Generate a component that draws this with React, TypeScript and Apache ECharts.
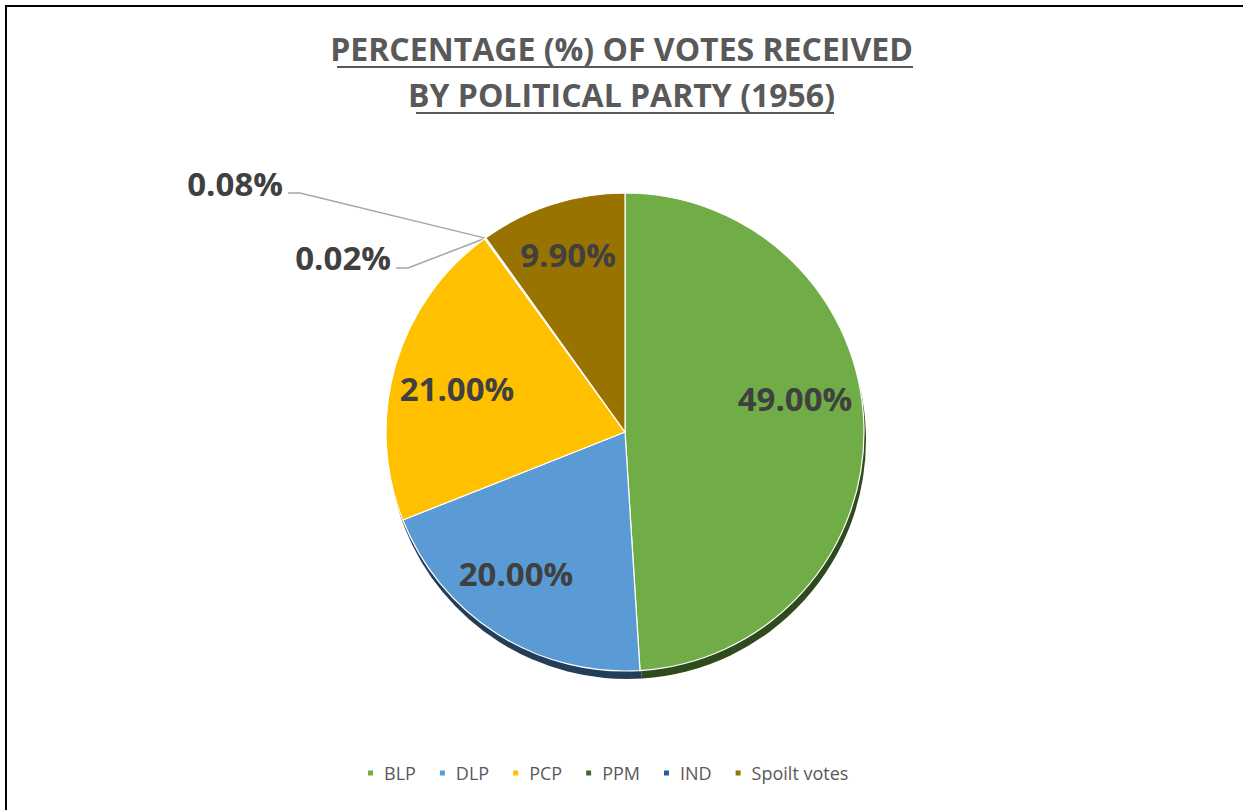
import React, { useEffect, useRef } from "react";
import * as echarts from "echarts";

const categories = ["BLP", "DLP", "PCP", "PPM", "IND", "Spoilt votes"];
const values = [49.0, 20.0, 21.0, 0.02, 0.08, 9.9];
const colors = ["#70AD47", "#5B9BD5", "#FFC000", "#43682B", "#255E91", "#997300"];
const shadowColors = ["#2F4A1D", "#223E58", "#6B5300", "#26391A", "#16385A", "#5A4400"];
const titleLines = ["PERCENTAGE (%) OF VOTES RECEIVED", "BY POLITICAL PARTY (1956)"];

// label anchor positions (page pixels)
const labelPos: Record<number, { x: number; y: number; align: string; elbow?: number[]; end?: number[] }> = {
  0: { x: 795, y: 398, align: "center" },
  1: { x: 516, y: 573, align: "center" },
  2: { x: 457, y: 388, align: "center" },
  3: { x: 391, y: 257, align: "right", elbow: [408, 268], end: [396, 268] },
  4: { x: 283, y: 183, align: "right", elbow: [300, 193], end: [288, 193] },
  5: { x: 568, y: 254, align: "center" },
};

const FONT = "'Open Sans', Lato, sans-serif";

export default function App() {
  const ref = useRef<HTMLDivElement>(null);
  useEffect(() => {
    document.body.style.margin = "0";
    if (!ref.current) return;
    const chart = echarts.init(ref.current, undefined, { renderer: "svg" });
    const center = [625, 432];
    const radius = 239;
    chart.setOption({
      animation: false,
      backgroundColor: "#ffffff",
      title: {
        text: titleLines.join("\n"),
        left: "center",
        top: 20,
        textStyle: {
          fontFamily: FONT,
          fontWeight: "bold",
          fontSize: 32,
          lineHeight: 46,
          color: "#595959",
        },
      },
      legend: {
        bottom: 23,
        left: 361,
        icon: "rect",
        itemWidth: 7,
        itemHeight: 7,
        itemGap: 22,
        data: categories,
        textStyle: { fontFamily: FONT, fontSize: 18, color: "#595959", padding: [0, 0, 0, 5] },
      },
      graphic: [
        {
          type: "rect",
          shape: { x: 6, y: 6, width: 1300, height: 900 },
          style: { fill: "none", stroke: "#000", lineWidth: 2 },
          silent: true,
          z: 100,
        },
        {
          type: "line",
          shape: { x1: 337, y1: 67, x2: 913, y2: 67 },
          style: { stroke: "#595959", lineWidth: 2 },
          silent: true,
        },
        {
          type: "line",
          shape: { x1: 416, y1: 113, x2: 834, y2: 113 },
          style: { stroke: "#595959", lineWidth: 2 },
          silent: true,
        },
      ],
      series: [
        {
          type: "pie",
          name: "shadow",
          center: [center[0] + 2, center[1] + 8],
          radius: radius,
          startAngle: 90,
          silent: true,
          z: 1,
          label: { show: false },
          labelLine: { show: false },
          itemStyle: { borderWidth: 0 },
          data: values.map((v, i) => ({
            value: v,
            name: categories[i] + "_shadow",
            itemStyle: { color: shadowColors[i] },
          })),
        },
        {
          type: "pie",
          name: "Votes",
          center: center,
          radius: radius,
          startAngle: 90,
          z: 2,
          itemStyle: { borderColor: "#ffffff", borderWidth: 1.2 },
          label: {
            show: true,
            position: "inside",
            fontFamily: FONT,
            fontWeight: "bold",
            fontSize: 33,
            color: "#404040",
            formatter: (p: any) => p.value.toFixed(2) + "%",
          },
          labelLine: { show: false },
          labelLayout: (params: any) => {
            const lp = labelPos[params.dataIndex];
            if (!lp) return {};
            const out: any = { x: lp.x, y: lp.y, align: lp.align, verticalAlign: "middle" };
            if (lp.elbow && params.labelLinePoints) {
              out.labelLinePoints = [params.labelLinePoints[0], lp.elbow, lp.end];
            }
            return out;
          },
          data: values.map((v, i) => {
            const item: any = { value: v, name: categories[i], itemStyle: { color: colors[i] } };
            if (i === 3 || i === 4) {
              item.label = { position: "outside" };
              item.labelLine = { show: true, length: 20, length2: 20, lineStyle: { color: "#A6A6A6", width: 1.5 } };
            }
            return item;
          }),
        },
      ],
    });
    return () => chart.dispose();
  }, []);
  return <div ref={ref} style={{ width: 1243, height: 810 }} />;
}
